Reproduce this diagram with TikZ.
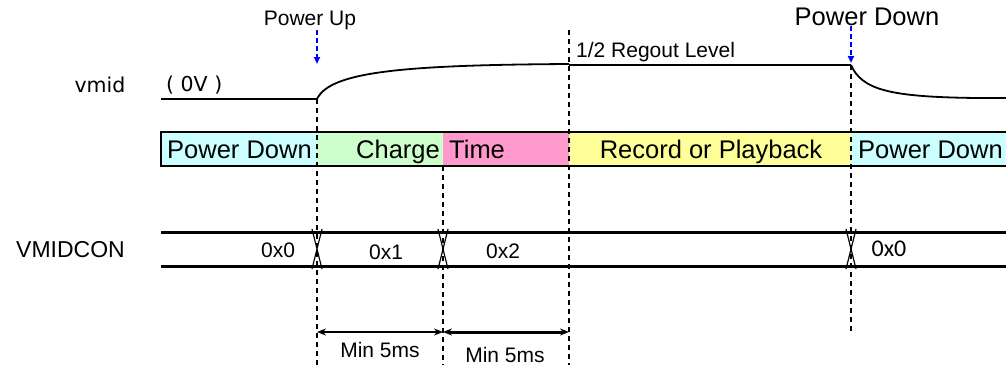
\documentclass[tikz,border=0pt]{standalone}
\usepackage{fontspec}
\setmainfont{Liberation Sans}
\newfontfamily\dvfont{DejaVu Sans}
\newfontfamily\clfont{Carlito}
\usetikzlibrary{arrows.meta}
\definecolor{PdCyan}{RGB}{204,255,255}
\definecolor{ChgGreen}{RGB}{204,255,204}
\definecolor{ChgPink}{RGB}{255,153,204}
\definecolor{RecYellow}{RGB}{255,255,153}
\tikzset{
	guide/.style={draw=black,line width=1.3pt,dash pattern=on 5pt off 4pt},
	level/.style={draw=black,line width=2.6pt},
	ramp/.style={draw=black,line width=1.8pt},
	bus/.style={draw=black,line width=3pt},
	xing/.style={draw=black,line width=1.2pt},
	event/.style={draw=blue,line width=1.8pt,dash pattern=on 5pt off 3pt,-{Triangle[length=7pt,width=6pt]}},
	span/.style={draw=black,line width=2pt,{Stealth[length=9pt,width=7pt]}-{Stealth[length=9pt,width=7pt]}},
	lbl/.style={inner sep=0pt,anchor=base,font=\fontsize{21}{24}\selectfont},
	big/.style={inner sep=0pt,anchor=base,font=\fontsize{25.5}{28}\selectfont},
}
\begin{document}
\begin{tikzpicture}[x=1pt,y=-1pt]
	\useasboundingbox (0,0) rectangle (1006,365);
	% time marks
	\coordinate (pu) at (317,99);
	\coordinate (ch) at (443,166);
	\coordinate (rp) at (569,30);
	\coordinate (pd) at (851,65);
	% phase bar
	\foreach \a/\b/\c in {161/317/PdCyan,317/443/ChgGreen,443/569/ChgPink,569/851/RecYellow,851/1010/PdCyan}
	\fill[\c] (\a,132) rectangle (\b,166);
	\draw[level] (1010,132) -- (161,132) -- (161,166) -- (1010,166);
	\node[big,anchor=base west] (bpd) at (167,158) {Power Down};
	\node[big,anchor=base east] (bchg) at (440,158) {Charge};
	\node[big,anchor=base west] (btim) at (449,158) {Time};
	\node[big] (brec) at (711,158) {Record or Playback};
	\node[big,anchor=base west] (bpd2) at (858,158) {Power Down};
	% guides
	\coordinate (pu b) at (317,365);
	\coordinate (ch b) at (443,365);
	\coordinate (rp b) at (569,365);
	\coordinate (pd b) at (851,332);
	\foreach \p in {pu,ch,rp,pd}
	\draw[guide] (\p) -- (\p\space b);
	% vmid
	\draw[level] (161,99) -- (pu);
	\draw[ramp] (pu) .. controls (330,72) and (400,65) .. (569,64);
	\draw[level] (569,65) -- (pd);
	\draw[ramp] (pd) .. controls (862,90) and (890,97) .. (977,98);
	\draw[level] (977,98) -- (1010,98);
	\node[lbl,font=\dvfont\fontsize{20.5}{24}\selectfont] (vmid) at (100,92) {vmid};
	\node[lbl,font=\dvfont\fontsize{20.5}{24}\selectfont,anchor=base west] (zero) at (166,91) {( 0V )};
	\node[lbl,anchor=base west] (half) at (576,57) {1/2 Regout Level};
	% events
	\node[lbl] (up) at (310,25) {Power Up};
	\node[big] (down) at (867,25) {Power Down};
	\coordinate (up s) at (317,30);
	\coordinate (up e) at (317,64);
	\coordinate (dn s) at (851,26);
	\coordinate (dn e) at (851,63);
	\draw[event] (up s) -- (up e);
	\draw[event] (dn s) -- (dn e);
	% VMIDCON bus
	\draw[bus] (161,232) -- (1010,232);
	\draw[bus] (161,266) -- (1010,266);
	\foreach \x in {317,443,851}
	\draw[xing] (\x-5,229) -- (\x+5,269) (\x+5,229) -- (\x-5,269);
	\node[lbl,font=\fontsize{23}{26}\selectfont,anchor=base east] (con) at (125,257) {VMIDCON};
	\node[lbl] (v0) at (278,257) {0x0};
	\node[lbl] (v1) at (386,259) {0x1};
	\node[lbl] (v2) at (503,258) {0x2};
	\node[lbl,font=\clfont\fontsize{24}{26}\selectfont] (v3) at (889,256) {0x0};
	% minimum times
	\coordinate (s1) at (317,332);
	\coordinate (s2) at (443,332);
	\coordinate (s3) at (569,332);
	\draw[span] (s1) -- (s2);
	\draw[span,line width=3pt] (s2) -- (s3);
	\node[lbl] (m1) at (380,357) {Min 5ms};
	\node[lbl] (m2) at (505,362) {Min 5ms};
\end{tikzpicture}
\end{document}
